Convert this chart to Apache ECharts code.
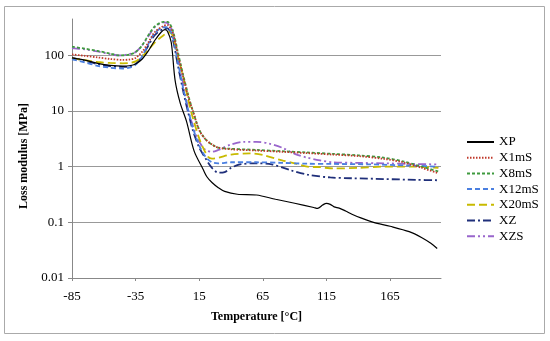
<!DOCTYPE html>
<html><head><meta charset="utf-8">
<script src="https://cdn.jsdelivr.net/npm/echarts@6/dist/echarts.min.js"></script>
<style>html,body{margin:0;padding:0;background:#fff}#c{width:550px;height:341px}</style>
</head><body><div id="c"></div>
<script>
const seriesNames = ['XP','X1mS','X8mS','X12mS','X20mS','XZ','XZS'];
const xTickLabels = [-85,-35,15,65,115,165];
const yTickLabels = [0.01,0.1,1,10,100];

const tXP = [-85,-75,-65,-55,-45,-40,-35,-30,-25,-20,-15,-12,-10,-7,-4,0,5,11,18,21,25,30,35,45,60,75,90,105,108,112,115,118,121,125,130,135,142,152,165,180,190,197,202];
const vXP = [90,82,72,66,64,65,70,85,120,185,260,290,270,170,36,14,6.5,1.9,0.9,0.66,0.52,0.42,0.36,0.32,0.31,0.26,0.22,0.185,0.178,0.205,0.22,0.21,0.19,0.18,0.16,0.14,0.12,0.1,0.085,0.068,0.053,0.042,0.034];

const tX1mS = [-85,-75,-65,-55,-45,-40,-35,-30,-25,-20,-13,-10,-6,-2,2,7,10,15,20,25,30,40,60,80,100,120,140,160,175,190,203];
const vX1mS = [104,98,92,86,83,84,90,115,170,260,340,350,260,110,45,16,10,4.5,3.1,2.5,2.2,2.05,1.95,1.85,1.75,1.65,1.55,1.38,1.2,0.95,0.76];

const tX8mS = [-85,-75,-65,-55,-48,-40,-35,-30,-25,-20,-13,-10,-6,-2,2,7,10,15,20,25,30,40,60,80,100,120,140,160,175,190,203];
const vX8mS = [143,132,120,108,100,103,115,150,230,330,400,400,290,120,48,17,10,4.6,3.1,2.5,2.2,2.1,2.0,1.9,1.8,1.7,1.6,1.45,1.25,1.0,0.82];

const tX12mS = [-85,-75,-65,-55,-45,-40,-35,-30,-25,-20,-13,-10,-6,-2,2,6.5,10,15,20,25,30,40,60,80,100,120,150,180,203];
const vX12mS = [85,75,65,60,58,60,68,95,160,250,320,320,220,80,28,10,5,2.4,1.5,1.2,1.15,1.2,1.2,1.17,1.13,1.12,1.1,1.05,1.0];

const tX20mS = [-85,-75,-65,-55,-45,-40,-35,-30,-25,-20,-13,-9,-6,-3,2,6,10,15,18,22,25,30,40,55,65,80,90,100,110,120,140,160,185,203];
const vX20mS = [88,82,76,73,72,73,78,95,125,170,230,260,230,120,45,17,7.5,3.2,2.2,1.5,1.4,1.45,1.65,1.73,1.62,1.3,1.15,1.0,0.98,0.93,0.95,1.0,1.0,0.95];

const tXZ = [-85,-75,-65,-55,-45,-40,-35,-30,-25,-20,-13,-10,-6,-2,2,6,10,15,20,25,30,35,40,47,60,72,87,100,118,135,160,185,203];
const vXZ = [90,80,70,64,62,63,70,95,150,230,300,305,200,70,25,10,4.5,2.2,1.4,0.95,0.78,0.8,0.95,1.1,1.15,1.1,0.86,0.72,0.64,0.62,0.6,0.58,0.57];

const tXZS = [-85,-75,-65,-55,-48,-40,-35,-30,-25,-20,-13,-10,-6,-2,2,6.5,10,15,20,25,30,40,50,60,70,80,90,100,110,120,140,160,180,203];
const vXZS = [135,128,118,105,100,105,115,150,220,320,390,380,270,100,35,10,5.5,2.8,2.0,1.85,2.0,2.5,2.8,2.8,2.6,2.2,1.7,1.45,1.3,1.2,1.17,1.15,1.12,1.1];

const temps = [tXP,tX1mS,tX8mS,tX12mS,tX20mS,tXZ,tXZS];
const vals = [vXP,vX1mS,vX8mS,vX12mS,vX20mS,vXZ,vXZS];

const styles = [
  {color:'#000000', width:1.2, type:'solid'},
  {color:'#C0392B', width:1.8, type:[1.5,1.5]},
  {color:'#3E9A3E', width:1.8, type:[3,2]},
  {color:'#4A7FE0', width:1.8, type:[5,3]},
  {color:'#C8BA00', width:1.8, type:[8,4]},
  {color:'#1F2F7A', width:1.8, type:[8,3,2,3]},
  {color:'#9966CC', width:1.8, type:[8,3,2,3,2,3]}
];

const chart = echarts.init(document.getElementById('c'), null, {renderer:'canvas'});
const font = 'Liberation Serif';
chart.setOption({
  animation:false,
  backgroundColor:'#ffffff',
  textStyle:{fontFamily:font},
  grid:{left:72, right:109, top:19, bottom:63},
  legend:{
    orient:'vertical', left:461, top:130,
    itemWidth:27, itemHeight:14, itemGap:1.7,
    itemStyle:{opacity:0},
    textStyle:{fontFamily:font, fontSize:13, color:'#000', lineHeight:14},
    data:seriesNames
  },
  xAxis:{
    type:'value', min:-85, max:205,
    axisLine:{show:true, onZero:false, lineStyle:{color:'#888', width:1}},
    axisTick:{show:true, length:3, inside:false, customValues:xTickLabels, lineStyle:{color:'#888'}},
    axisLabel:{customValues:xTickLabels, fontFamily:font, fontSize:13, color:'#000', margin:12},
    splitLine:{show:false},
    name:'Temperature [°C]', nameLocation:'middle', nameGap:33,
    nameTextStyle:{fontFamily:font, fontSize:12, fontWeight:'bold', color:'#000'}
  },
  yAxis:{
    type:'log', logBase:10, min:0.01, max:450,
    axisLine:{show:true, onZero:false, lineStyle:{color:'#888', width:1}},
    axisTick:{show:true, length:4, customValues:yTickLabels, lineStyle:{color:'#888'}},
    axisLabel:{customValues:yTickLabels, fontFamily:font, fontSize:13, color:'#000', margin:8,
      formatter:function(v){return String(v);}},
    splitLine:{show:true, lineStyle:{color:['#999','#999','#999','#999','#999','rgba(0,0,0,0)'], width:1}}
  },
  graphic:[
    {type:'rect', shape:{x:4.5, y:6.5, width:540, height:327}, style:{fill:'none', stroke:'#aaa', lineWidth:1}, silent:true, z:-1},
    {type:'text', x:24, y:156, rotation:Math.PI/2, style:{text:'Loss modulus [MPa]', font:'bold 12px "Liberation Serif"', fill:'#000', textAlign:'center', textVerticalAlign:'middle'}}
  ],
  series: seriesNames.map(function(n,i){
    return {
      name:n, type:'line', smooth:0.3, symbol:'none', showSymbol:false,
      lineStyle:{color:styles[i].color, width:styles[i].width, type:styles[i].type},
      itemStyle:{color:styles[i].color},
      data: temps[i].map(function(t,j){return [t, vals[i][j]];}),
      z: 10 - i
    };
  })
});
</script></body></html>
